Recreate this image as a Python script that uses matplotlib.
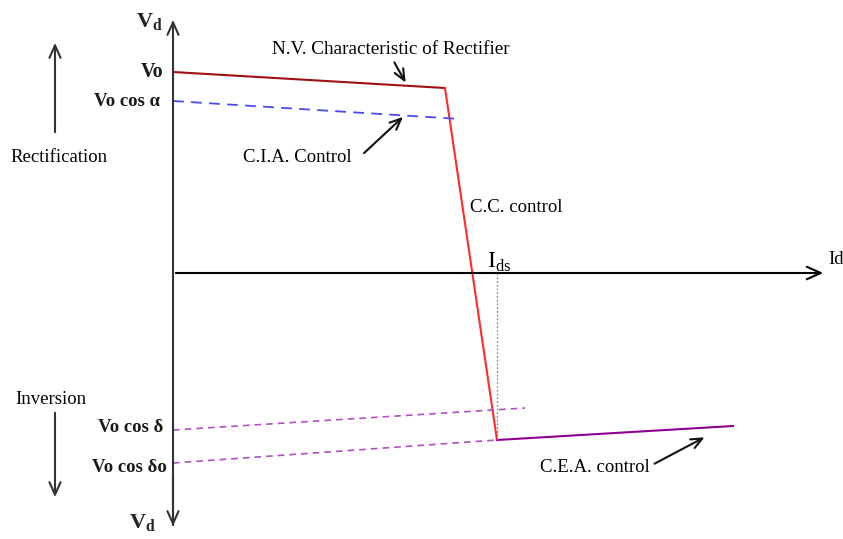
import matplotlib
matplotlib.use("Agg")
import matplotlib.pyplot as plt

# Coordinates: x = current (px from Vd axis), y = voltage (px above Id axis)
nv_x = [0, 272]
nv_y = [201, 185]
cc_x = [272, 324]
cc_y = [185, -167]
cia_x = [0, 287]
cia_y = [172, 154]
ced_x = [0, 352]
ced_y = [-157, -135]
cedo_x = [0, 324]
cedo_y = [-190, -167]
cea_x = [324, 560]
cea_y = [-167, -153]
ids_x = 324

plt.rcParams['font.family'] = ['Liberation Serif', 'DejaVu Serif']
fig = plt.figure(figsize=(8.43, 5.39), dpi=100)
ax = fig.add_axes([0, 0, 1, 1])
ax.set_xlim(-173, 670)
ax.set_ylim(-266, 273)
ax.axis('off')

fs = 13.5
# axes
ax.annotate('', xy=(0, 256), xytext=(0, -255),
            arrowprops=dict(arrowstyle='->,head_length=0.9,head_width=0.4', color='#333333', lw=1.5))
ax.annotate('', xy=(0, -256), xytext=(0, -200),
            arrowprops=dict(arrowstyle='->,head_length=0.9,head_width=0.4', color='#333333', lw=1.5))
ax.annotate('', xy=(653, 0), xytext=(0, 0),
            arrowprops=dict(arrowstyle='->,head_length=1.0,head_width=0.45', color='black', lw=1.5))

# lines
ax.plot(nv_x, nv_y, color='#a01010', lw=1.5)
ax.plot(cc_x, cc_y, color='#ff2a2a', lw=1.5)
ax.plot(cia_x, cia_y, color='#4a4af5', lw=1.3, dashes=(6, 4))
ax.plot(ced_x, ced_y, color='#b050c0', lw=1.2, dashes=(4, 3))
ax.plot(cedo_x, cedo_y, color='#b050c0', lw=1.2, dashes=(4, 3))
ax.plot(cea_x, cea_y, color='#900090', lw=1.5)
ax.plot([ids_x, ids_x], [0, cea_y[0]], color='#888888', lw=0.9, dashes=(1.5, 1.5))

# labels
ax.text(-24, 251, 'V$_\\mathregular{d}$', fontsize=16, fontweight='bold', ha='center', va='center', color='#222222')
ax.text(-31, -250, 'V$_\\mathregular{d}$', fontsize=16, fontweight='bold', ha='center', va='center', color='#222222')
ax.text(-10, 201, 'Vo', fontsize=14.5, fontweight='bold', ha='right', va='center', color='#1a1a1a')
ax.text(-13, 172, 'Vo cos α', fontsize=13.5, fontweight='bold', ha='right', va='center', color='#1a1a1a')
ax.text(-10, -155, 'Vo cos δ', fontsize=13.5, fontweight='bold', ha='right', va='center', color='#1a1a1a')
ax.text(-6, -194, 'Vo cos δo', fontsize=13.5, fontweight='bold', ha='right', va='center', color='#1a1a1a')
ax.text(99, 223, 'N.V. Characteristic of Rectifier', fontsize=13.8, ha='left', va='center')
ax.text(70, 116, 'C.I.A. Control', fontsize=fs, ha='left', va='center')
ax.text(297, 65, 'C.C. control', fontsize=fs, ha='left', va='center')
ax.text(314, 11, 'I$_\\mathregular{ds}$', fontsize=17, ha='left', va='center')
ax.text(655, 13, 'Id', fontsize=fs, ha='left', va='center')
ax.text(367, -195, 'C.E.A. control', fontsize=fs, ha='left', va='center')
ax.text(-163, 116, 'Rectification', fontsize=fs, ha='left', va='center')
ax.text(-158, -127, 'Inversion', fontsize=fs, ha='left', va='center')

# pointer arrows
arr = dict(arrowstyle='->,head_length=0.8,head_width=0.35', color='#111111', lw=1.5)
ax.annotate('', xy=(234, 188), xytext=(220, 213), arrowprops=arr)
ax.annotate('', xy=(232, 158), xytext=(189, 118), arrowprops=arr)
ax.annotate('', xy=(534, -163), xytext=(479, -192), arrowprops=arr)
ax.annotate('', xy=(-118, 233), xytext=(-118, 138), arrowprops=dict(arrowstyle='->,head_length=0.9,head_width=0.4', color='#333333', lw=1.5))
ax.annotate('', xy=(-118, -227), xytext=(-118, -137), arrowprops=dict(arrowstyle='->,head_length=0.9,head_width=0.4', color='#333333', lw=1.5))

fig.savefig('out.png', dpi=100)
